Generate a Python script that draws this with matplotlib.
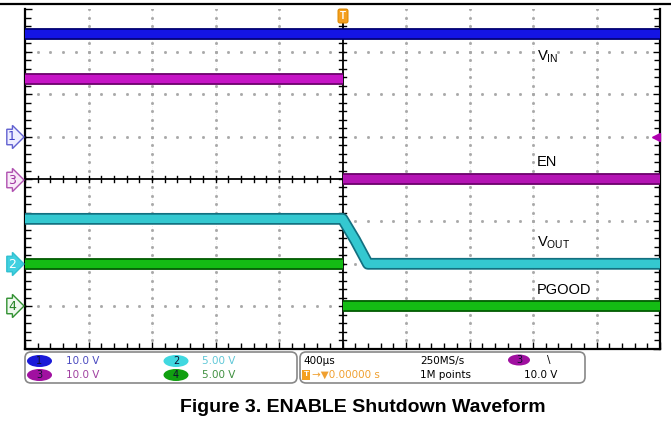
import matplotlib.pyplot as plt
import numpy as np
from matplotlib.patches import Ellipse, FancyBboxPatch

plt.rcParams['font.family'] = ['Liberation Sans', 'DejaVu Sans']
plt.rcParams['mathtext.fontset'] = 'custom'
plt.rcParams['mathtext.rm'] = 'Liberation Sans'

#-------------------------------------------------------------------------------
# scope settings
t_div = 400.0            # us / div
ch_scale = {1: 10.0, 2: 5.0, 3: 10.0, 4: 5.0}     # V / div
ch_offset = {1: 1.0, 2: -2.0, 3: 0.0, 4: -3.0}    # ground level, div

# captured levels (V), edge at t = 0
vin_t = [-2000, 2000]
vin_v = [24.3, 24.3]

en_before_t = [-2000, 0]
en_before_v = [23.5, 23.5]
en_after_t = [0, 2000]
en_after_v = [0.0, 0.0]

vout_t = [-2000, 0, 80, 160, 2000]
vout_v = [5.3, 5.3, 2.8, 0.0, 0.0]

pg_before_t = [-2000, 0]
pg_before_v = [5.0, 5.0]
pg_after_t = [0, 2000]
pg_after_v = [0.0, 0.0]

labels = ['V$_{\\mathrm{IN}}$', 'EN', 'V$_{\\mathrm{OUT}}$', 'PGOOD']
label_y = [57, 162, 243, 290]

#-------------------------------------------------------------------------------
fig = plt.figure(figsize=(6.71, 4.37), dpi=100)
ax = fig.add_axes([25 / 671, 1 - 348.6 / 437, 635 / 671, 339.2 / 437])
ax.set_xlim(-2000, 2000)
ax.set_ylim(-4, 4)

# graticule
minor_y = np.arange(-4, 4.01, 0.2)
minor_x = np.arange(-2000, 2001, 80)
for k in range(-4, 5):
	if k == 0:
		continue
	xk = k * t_div
	ax.plot([xk, xk], [-4, 4], color='#e4e4e4', lw=0.6, ls=(0, (1, 2)), zorder=1)
	ax.plot([xk] * len(minor_y), minor_y, ls='none', marker='s', ms=1.0, color='#a8a8a8', zorder=1)
for k in range(-3, 4):
	if k == 0:
		continue
	ax.plot(minor_x, [k] * len(minor_x), ls='none', marker='s', ms=1.0, color='#a8a8a8', zorder=1)

# crosshair with ticks
ax.axvline(0, color='black', lw=1.3, zorder=2)
ax.axhline(0, color='black', lw=1.3, zorder=2)
for yy in minor_y:
	ax.plot([-22, 22], [yy, yy], color='black', lw=1, zorder=2)
for xx in minor_x:
	ax.plot([xx, xx], [-0.08, 0.08], color='black', lw=1, zorder=2)


def to_div(v, ch):
	return np.array(v) / ch_scale[ch] + ch_offset[ch]


def trace(t, v, ch, dark, bright):
	y = to_div(v, ch)
	ax.plot(t, y, color=dark, lw=8.5, solid_capstyle='butt', zorder=3)
	ax.plot(t, y, color=bright, lw=6.0, solid_capstyle='butt', zorder=4)


trace(vin_t, vin_v, 1, '#000070', '#1414e4')
trace(en_before_t, en_before_v, 3, '#680068', '#c614c6')
trace(en_after_t, en_after_v, 3, '#680068', '#b414b4')
trace(vout_t, vout_v, 2, '#127080', '#34c8d0')
trace(pg_before_t, pg_before_v, 4, '#005800', '#14bc14')
trace(pg_after_t, pg_after_v, 4, '#005800', '#14bc14')

# trigger level
ax.plot([1975], [1.0], marker='<', ms=6, color='#b000b0', ls='none', zorder=5, clip_on=False)

for s in ['left', 'right', 'bottom']:
	ax.spines[s].set_linewidth(1.6)
ax.spines['top'].set_visible(False)
ax.set_xticks(np.arange(-2000, 2001, 400))
ax.set_xticks(minor_x, minor=True)
ax.set_yticks(np.arange(-4, 5, 1))
ax.set_yticks(minor_y, minor=True)
ax.tick_params(which='both', direction='in', labelleft=False, labelbottom=False,
			   left=True, right=True, bottom=True, top=False, width=1)
ax.tick_params(which='major', length=5)
ax.tick_params(which='minor', length=4)

#-------------------------------------------------------------------------------
# annotation layer in pixel units
ov = fig.add_axes([0, 0, 1, 1])
ov.set_xlim(0, 671)
ov.set_ylim(437, 0)
ov.axis('off')
ov.patch.set_alpha(0)

ov.plot([0, 671], [4, 4], color='black', lw=1.6)

for txt, yy in zip(labels, label_y):
	ov.text(537, yy, txt, fontsize=10.5, va='center', ha='left')

# channel ground markers
marks = [('1', 137, '#4040c8', '#eeeeff', '#6060d0'),
		 ('3', 180, '#a030a0', '#f8eaf8', '#b050b0'),
		 ('2', 264, 'white', '#40d0e0', '#30c0d0'),
		 ('4', 306, '#208020', '#eef8ee', '#309030')]
for num, yy, tc, fc, ec in marks:
	ov.text(12, yy, num, fontsize=9, color=tc, ha='center', va='center', family='DejaVu Sans',
			bbox=dict(boxstyle='rarrow,pad=0.1', fc=fc, ec=ec, lw=1))

# trigger position marker
ov.text(343, 16, 'T', fontsize=7, color='white', weight='bold', ha='center', va='center',
		bbox=dict(boxstyle='round,pad=0.2', fc='#f4a020', ec='#e08a00', lw=0.8))

# readout panels
for x0, w in [(25, 272), (300, 285)]:
	ov.add_patch(FancyBboxPatch((x0, 352), w, 31, boxstyle='round,pad=0,rounding_size=6',
								fc='white', ec='#888888', lw=1.2))

chips = [('1', 39.5, 361, '#1a1ad8', '10.0 V', '#4a4ac0'),
		 ('3', 39.5, 375, '#a010a0', '10.0 V', '#a040a0'),
		 ('2', 176, 361, '#40d8e0', '5.00 V', '#60c8d8'),
		 ('4', 176, 375, '#10a010', '5.00 V', '#409040')]
for num, cx, cy, fc, val, vc in chips:
	ov.add_patch(Ellipse((cx, cy), 25, 12, fc=fc, ec='none'))
	ov.text(cx, cy, num, fontsize=7, color='#101030', ha='center', va='center', family='DejaVu Sans')
	ov.text(cx + 26, cy, val, fontsize=7.5, color=vc, ha='left', va='center', family='DejaVu Sans')

ov.text(303, 361, '400\u00b5s', fontsize=7.5, ha='left', va='center', family='DejaVu Sans')
ov.text(306, 375, 'T', fontsize=6, color='white', weight='bold', ha='center', va='center',
		bbox=dict(boxstyle='square,pad=0.15', fc='#f4a020', ec='none'))
ov.text(312, 375, '\u2192\u25bc0.00000 s', fontsize=7.5, color='#f0a030', ha='left', va='center',
		family='DejaVu Sans')
ov.text(420, 361, '250MS/s', fontsize=7.5, ha='left', va='center', family='DejaVu Sans')
ov.text(420, 375, '1M points', fontsize=7.5, ha='left', va='center', family='DejaVu Sans')
ov.add_patch(Ellipse((519, 360), 22, 11, fc='#a010a0', ec='none'))
ov.text(519, 360, '3', fontsize=7, color='#101030', ha='center', va='center', family='DejaVu Sans')
ov.text(549, 360, '\\', fontsize=7.5, ha='center', va='center', family='DejaVu Sans')
ov.text(557, 375, '10.0 V', fontsize=7.5, ha='right', va='center', family='DejaVu Sans')

ov.text(363, 408, 'Figure 3. ENABLE Shutdown Waveform', fontsize=14, weight='bold',
		ha='center', va='center')

fig.savefig('out.png', dpi=100)
